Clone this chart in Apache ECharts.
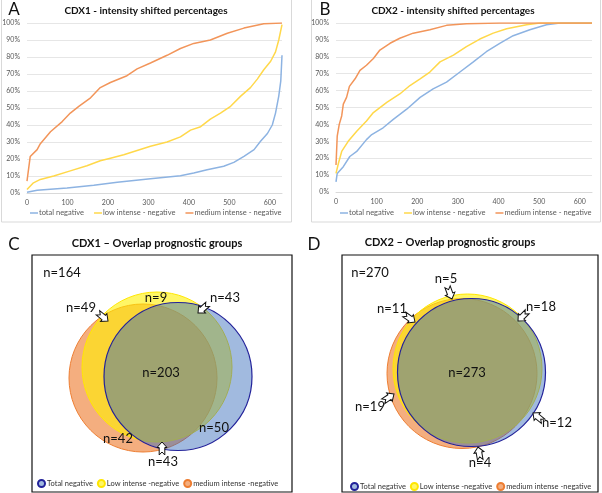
<!DOCTYPE html>
<html>
<head>
<meta charset="utf-8">
<script src="https://cdn.jsdelivr.net/npm/echarts@6/dist/echarts.min.js"></script>
<style>
  html, body { margin: 0; padding: 0; background: #fff; }
  #main { width: 602px; height: 493px; }
</style>
</head>
<body>
<div id="main"></div>
<script>
// cumulative percentages, [case rank, %]
var cdx1Total = [[0,0.4],[25,1.6],[99,3],[165,4.5],[223,6.3],[305,8.4],[379,10.2],[412,11.8],[445,13.7],[486,15.7],[511,18],[536,21.6],[561,25.5],[577,30.4],[594,35],[606,40],[614,47],[622,57],[627,66],[630,81]];
var cdx1Low = [[0,2],[16,6],[33,8],[66,10],[107,13],[148,16],[181,19],[206,20.5],[239,22.5],[272,25],[305,27.5],[346,30],[379,33],[404,37],[429,39],[453,43.5],[478,47],[503,51],[528,57],[552,62],[569,67],[585,72.5],[602,77.5],[614,83],[622,90],[630,99]];
var cdx1Medium = [[0,7],[8,21.5],[25,25.5],[33,29],[58,36],[87,42],[107,47],[128,51],[157,56],[181,62],[206,65],[247,69],[272,73],[305,76.5],[346,81],[379,85],[412,88],[453,90],[495,94],[536,97],[585,99.6],[630,100]];

var cdx2Total = [[0,6],[3,11],[18,15],[34,21],[51,24],[75,31],[88,34],[116,38],[141,43],[174,49],[207,56],[239,61],[272,65],[305,71],[338,77],[370,83],[403,88],[436,92.5],[477,96],[518,99],[551,100],[630,100]];
var cdx2Low = [[0,11],[6,17],[14,24],[30,30],[51,36],[75,42],[92,47],[125,53],[157,58],[182,63],[207,67],[231,71],[256,77],[289,81],[321,86],[354,90.5],[387,94],[420,96.6],[469,99],[502,100],[630,100]];
var cdx2Medium = [[0,16],[3,33],[8,40],[14,45],[18,52],[26,56],[33,62.5],[47,67],[59,72],[75,75],[92,79],[108,84],[133,88],[157,91],[190,94],[231,96],[272,98.6],[321,99.6],[403,100],[630,100]];

var lineNames = ['total negative', 'low intense - negative', 'medium intense - negative'];
var vennNames = ['Total negative', 'Low intense -negative', 'medium intense -negative'];

// venn circles: [name, cx, cy, r] in box units
var cdx1Circles = [['medium intense -negative',111,123,74],['Low intense -negative',125,112,75],['Total negative',146,121.5,74]];
var cdx1Counts = [['n=164',30,18],['n=9',124,43],['n=43',193,43],['n=49',49,53],['n=203',129,118],['n=50',182,173],['n=42',86,184],['n=43',131,207]];
var cdx1Arrows = [[76,66,-39],[166,58,-138],[130,187,90]];

var cdx2Circles = [['medium intense -negative',120,118.5,75],['Low intense -negative',125.5,113.5,74.5],['Total negative',129.5,117.5,74]];
var cdx2Counts = [['n=270',28,18],['n=5',104,24],['n=11',50,54],['n=18',199,52],['n=273',125,118],['n=19',28,152],['n=12',215,168],['n=4',138,208]];
var cdx2Arrows = [[110,44,-70],[73,67,-35],[176,66,-135],[52,139,34],[191,158,141],[136,192,100]];

var lineColors = { 'total negative': '#8db3e2', 'low intense - negative': '#ffd84a', 'medium intense - negative': '#f2955a' };
var vennStyle = {
  'Total negative': { fill: 'rgba(50,105,185,0.46)', stroke: '#22229a', lw: 1.2 },
  'Low intense -negative': { fill: 'rgba(255,240,0,0.6)', stroke: '#ffe600', lw: 1 },
  'medium intense -negative': { fill: 'rgba(237,125,49,0.62)', stroke: '#ed7d31', lw: 1 }
};

var FONT = 'Lato, "Open Sans", sans-serif';
var arrowShape = [[0,0],[-5.5,-5],[-5.5,-2.8],[-13,-2.8],[-10,0],[-13,2.8],[-5.5,2.8],[-5.5,5]];

function lineAxisX(i) {
  return {
    gridIndex: i, type: 'value', min: 0, max: 630, interval: 100,
    axisLine: { show: true, lineStyle: { color: '#d9d9d9' } },
    axisTick: { show: false }, splitLine: { show: false },
    axisLabel: { fontSize: 7, color: '#595959', fontFamily: FONT, margin: 6, showMaxLabel: false }
  };
}
function lineAxisY(i) {
  return {
    gridIndex: i, type: 'value', min: 0, max: 100, interval: 10,
    axisLine: { show: false }, axisTick: { show: false },
    splitLine: { lineStyle: { color: '#e6e6e6' } },
    axisLabel: { fontSize: 7, color: '#595959', fontFamily: FONT, margin: 7, formatter: '{value}%' }
  };
}
function hiddenAxis(i, max, inverse) {
  return { gridIndex: i, type: 'value', min: 0, max: max, inverse: !!inverse, show: false };
}

function lineSeries(name, data, idx) {
  return {
    type: 'line', name: name, data: data, xAxisIndex: idx, yAxisIndex: idx,
    showSymbol: false, symbol: 'none', lineStyle: { width: 1.5, color: lineColors[name] },
    itemStyle: { color: lineColors[name] }
  };
}

function circleSeries(c, idx) {
  var st = vennStyle[c[0]];
  return {
    type: 'custom', name: c[0], xAxisIndex: idx, yAxisIndex: idx,
    itemStyle: { color: st.fill, borderColor: st.stroke, borderWidth: 1 },
    data: [[c[1], c[2], c[3]]],
    renderItem: function (params, api) {
      var p = api.coord([api.value(0), api.value(1)]);
      var r = Math.abs(api.size([api.value(2), 0])[0]);
      return { type: 'circle', shape: { cx: p[0], cy: p[1], r: r },
        style: { fill: st.fill, stroke: st.stroke, lineWidth: st.lw } };
    }
  };
}

function countSeries(counts, idx) {
  return {
    type: 'custom', xAxisIndex: idx, yAxisIndex: idx, z: 5,
    data: counts.map(function (d) { return [d[1], d[2]]; }),
    renderItem: function (params, api) {
      var p = api.coord([api.value(0), api.value(1)]);
      return { type: 'text', x: p[0], y: p[1],
        style: { text: counts[params.dataIndex][0], fill: '#111', font: '13px ' + FONT, align: 'center', verticalAlign: 'middle' } };
    }
  };
}

function arrowSeries(arrows, idx) {
  return {
    type: 'custom', xAxisIndex: idx, yAxisIndex: idx, z: 6,
    data: arrows,
    renderItem: function (params, api) {
      var p = api.coord([api.value(0), api.value(1)]);
      return { type: 'polygon', x: p[0], y: p[1], rotation: api.value(2) * Math.PI / 180,
        shape: { points: arrowShape }, style: { fill: '#fff', stroke: '#111', lineWidth: 1 } };
    }
  };
}

function txt(x, y, s, font) {
  return { type: 'text', x: x, y: y, style: { text: s, font: font, fill: '#111', align: 'center', verticalAlign: 'middle' } };
}

var myChart = echarts.init(document.getElementById('main'));
var series = [
  lineSeries(lineNames[0], cdx1Total, 0), lineSeries(lineNames[1], cdx1Low, 0), lineSeries(lineNames[2], cdx1Medium, 0),
  lineSeries(lineNames[0], cdx2Total, 1), lineSeries(lineNames[1], cdx2Low, 1), lineSeries(lineNames[2], cdx2Medium, 1)
];
cdx1Circles.forEach(function (c) { series.push(circleSeries(c, 2)); });
cdx2Circles.forEach(function (c) { series.push(circleSeries(c, 3)); });
series.push(countSeries(cdx1Counts, 2), countSeries(cdx2Counts, 3), arrowSeries(cdx1Arrows, 2), arrowSeries(cdx2Arrows, 3));

var lineLegend = function (left) {
  return { left: left, top: 209, padding: 0, data: lineNames, icon: 'rect', itemWidth: 8, itemHeight: 1.5, itemGap: 10,
    textStyle: { fontSize: 7.5, color: '#595959', fontFamily: FONT, padding: [0, 0, 0, -4] }, selectedMode: false };
};
var vennLegend = function (left, top) {
  return { left: left, top: top, padding: 0, data: vennNames, icon: 'circle', itemWidth: 7, itemHeight: 7, itemGap: 4,
    textStyle: { fontSize: 7.5, color: '#333', fontFamily: FONT, padding: [0, 0, 0, -3] }, selectedMode: false };
};

myChart.setOption({
  animation: false,
  grid: [
    { left: 27, top: 23, width: 255, height: 170, containLabel: false, outerBoundsMode: 'none' },
    { left: 336, top: 23, width: 256, height: 169, containLabel: false, outerBoundsMode: 'none' },
    { left: 32, top: 255, width: 260, height: 237, show: true, borderColor: '#111', borderWidth: 1.2, containLabel: false, outerBoundsMode: 'none' },
    { left: 342, top: 255, width: 256, height: 237, show: true, borderColor: '#111', borderWidth: 1.2, containLabel: false, outerBoundsMode: 'none' }
  ],
  xAxis: [lineAxisX(0), lineAxisX(1), hiddenAxis(2, 260), hiddenAxis(3, 256)],
  yAxis: [lineAxisY(0), lineAxisY(1), hiddenAxis(2, 237, true), hiddenAxis(3, 237, true)],
  legend: [lineLegend(30), lineLegend(340), vennLegend(37, 479), vennLegend(350, 482)],
  series: series,
  graphic: [
    { type: 'rect', shape: { x: 1.5, y: -2, width: 290, height: 224 }, style: { fill: 'none', stroke: '#d9d9d9', lineWidth: 1 }, z: -1 },
    { type: 'rect', shape: { x: 311.5, y: -2, width: 289, height: 224 }, style: { fill: 'none', stroke: '#d9d9d9', lineWidth: 1 }, z: -1 },
    txt(14, 10, 'A', '17px ' + FONT),
    txt(146, 11, 'CDX1 - intensity shifted percentages', 'bold 10px ' + FONT),
    txt(325, 10, 'B', '17px ' + FONT),
    txt(453, 11, 'CDX2 - intensity shifted percentages', 'bold 10px ' + FONT),
    txt(14, 245, 'C', '17px ' + FONT),
    txt(157, 243, 'CDX1 \u2013 Overlap prognostic groups', 'bold 11px ' + FONT),
    txt(314, 245, 'D', '17px ' + FONT),
    txt(450, 242, 'CDX2 \u2013 Overlap prognostic groups', 'bold 11px ' + FONT)
  ]
});
</script>
</body>
</html>
